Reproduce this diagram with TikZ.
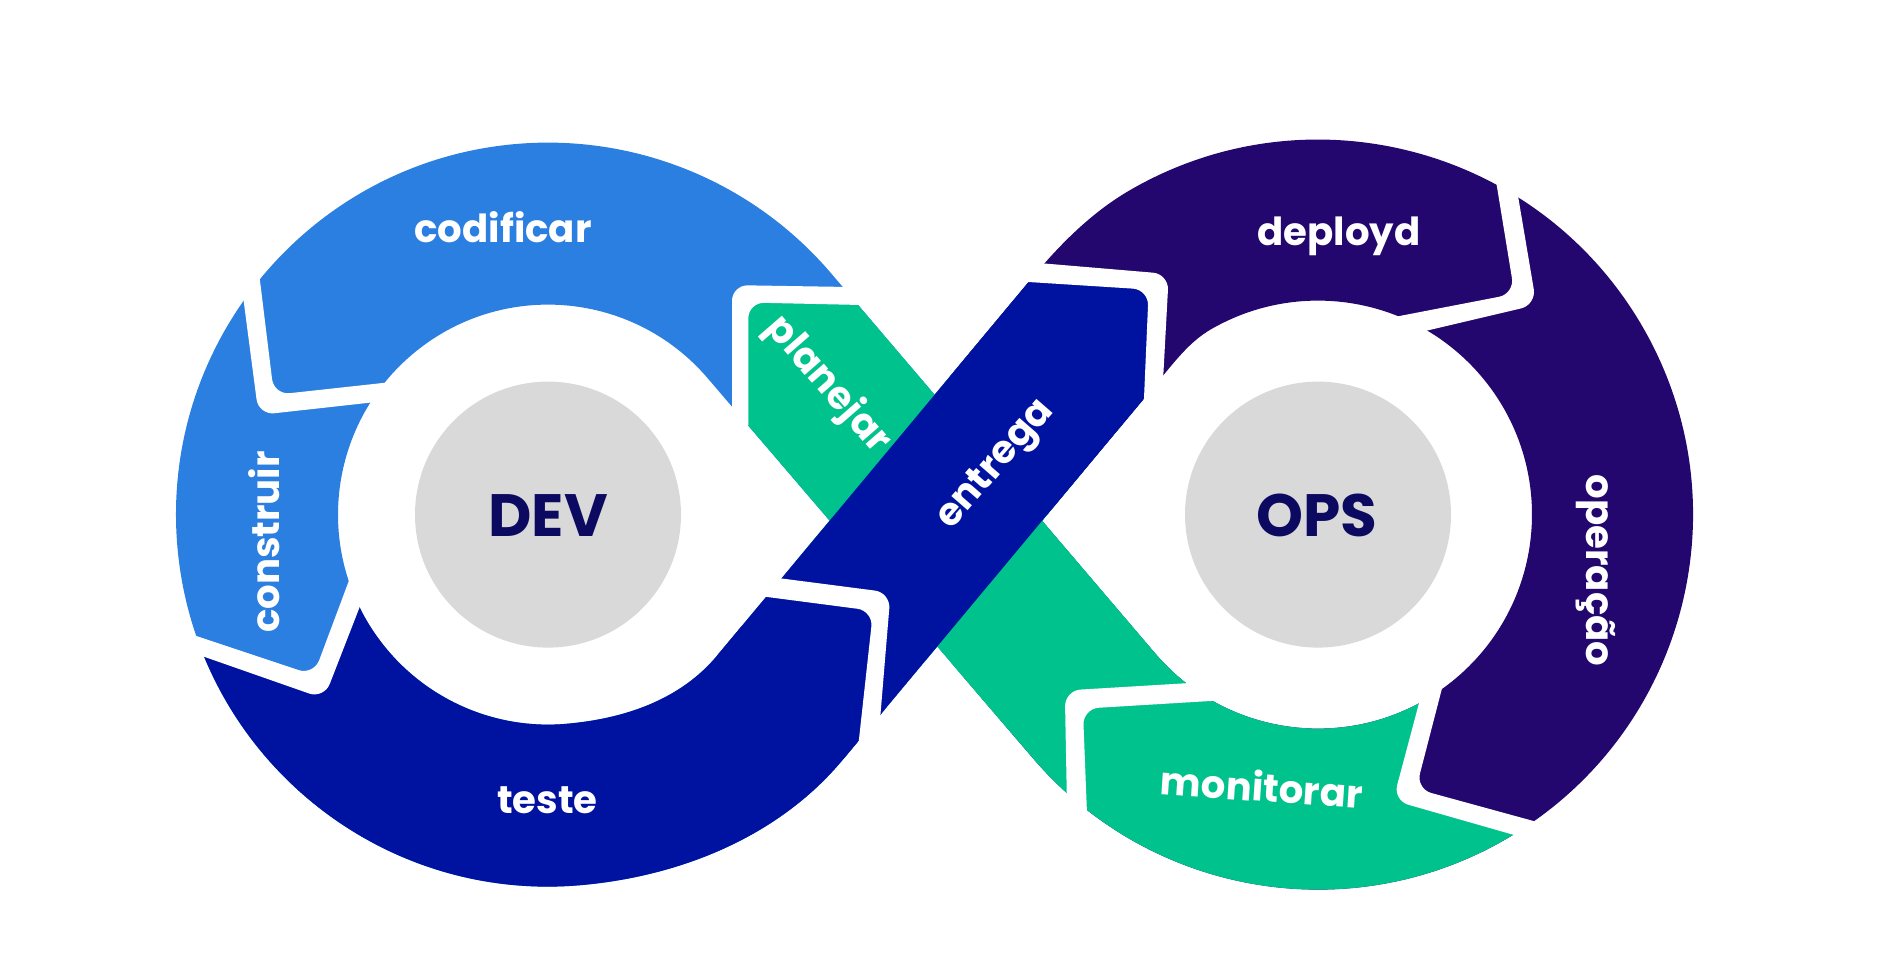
\documentclass[tikz,border=0pt]{standalone}
\usepackage{fontspec}
\setmainfont{Poppins}
\usetikzlibrary{calc}
\definecolor{csky}{HTML}{2B7FE1}
\definecolor{cnavy}{HTML}{0013A0}
\definecolor{cplum}{HTML}{23076E}
\definecolor{cmint}{HTML}{00C28C}
\definecolor{cgrey}{HTML}{D9D9D9}
\definecolor{cink}{HTML}{0B0A60}
\tikzset{
  stage/.style={text=white, font=\bfseries\fontsize{22}{26}\selectfont, anchor=base, inner sep=0pt},
  hub/.style={text=cink, font=\bfseries\fontsize{34}{40}\selectfont, anchor=base, inner sep=0pt},
  gap/.style={fill=white, rounded corners=9},
  core/.style={fill=cgrey},
}

\begin{document}
\begin{tikzpicture}[x=0.02cm, y=-0.02cm]
  \useasboundingbox (0,0) rectangle (1894,961);
  % ring centres and the ends of the two crossing bands
  \coordinate (dev) at (548,514.6);
  \coordinate (ops) at (1318,514.6);
  \coordinate (a1) at ($(dev)+(39.8:220.2)$);
  \coordinate (a2) at ($(dev)+(39.8:383.4)$);
  \coordinate (b1) at ($(ops)+(-140.2:371.2)$);
  \coordinate (b2) at ($(ops)+(-140.2:208)$);
  \coordinate (c1) at ($(dev)+(-40.4:372)$);
  \coordinate (c2) at ($(dev)+(-40.4:210)$);
  \coordinate (d1) at ($(ops)+(139.6:214)$);
  \coordinate (d2) at ($(ops)+(139.6:375)$);

  \begin{scope}
    % the loop: two open rings and the two bands
    \clip (a2) .. controls ($(a2)+(129.8:100)$) and ($(dev)+(85:372)+(-5:100)$) .. ($(dev)+(85:372)$)
            arc[start angle=85, end angle=319.6, radius=372] -- (c2)
            arc[start angle=319.6, end angle=85, radius=210]
            .. controls ($(dev)+(85:210)+(-5:58)$) and ($(a1)+(129.8:58)$) .. (a1) -- cycle
          (a1) -- (b1) -- (b2) -- (a2) -- cycle
          (c1) -- (d1) -- (d2) -- (c2) -- cycle
          (b1) .. controls ($(b1)+(-50.2:44)$) and ($(ops)+(-120:375)+(150:44)$) .. ($(ops)+(-120:375)$)
            arc[start angle=-120, end angle=139.6, radius=375] -- (d1)
            arc[start angle=139.6, end angle=-120, radius=214]
            .. controls ($(ops)+(-120:214)+(150:25)$) and ($(b2)+(-50.2:25)$) .. (b2) -- cycle;
    \fill[csky] (0,0) rectangle (960,961);
    \fill[cplum] (960,0) rectangle (1894,961);
    \fill[cmint] (740.2,293.8) -- (960,298) -- (1220,660) -- (1100,800) -- (740.2,520) -- cycle;
    \fill[cmint] (1445.2,640) -- (1404.6,794.6) -- (1620,855) -- (1620,961) -- (950,961) -- (950,514.6) -- (ops) -- cycle;
    \fill[cnavy] (100,612.1) -- (318.8,686.9) -- (373,545) -- (dev) -- (1067.6,814.6) -- (1067.6,961) -- (100,961) -- cycle;
    \fill[cnavy] (a1) -- (b1) -- (b2) -- (a2) -- cycle;
    \fill[cnavy] (950,266.5) -- (1158.75,281.8) -- (1151,440) -- (1151,514.6) -- (950,514.6) -- cycle;
  \end{scope}

  % white cuts between the stages
  \fill[gap] (255,240) -- (274,394.9) -- (410,380) -- (410,398.2) -- (258.6,415) -- (235.7,240) -- cycle;
  \fill[gap] (150,620.5) -- (313.6,675.1) -- (362.3,545) -- (383.8,545) -- (324,698.7) -- (150,637.8) -- cycle;
  \fill[gap] (930,288.3) -- (732,285.1) -- (732,440) -- (748.3,440) -- (748.3,302.5) -- (930,306.5) -- cycle;
  \fill[gap] (690,586.9) -- (873.1,610.8) -- (851.2,810) -- (872.5,810) -- (890.6,592.6) -- (690,566.6) -- cycle;
  \fill[gap] (970,278.3) -- (1148.7,289.6) -- (1142.2,440) -- (1159.8,440) -- (1168.8,274) -- (970,257.2) -- cycle;
  \fill[gap] (1484.4,110) -- (1514.5,293.8) -- (1370,321.7) -- (1370,344) -- (1536.4,304.8) -- (1503.5,110) -- cycle;
  \fill[gap] (1435.8,640) -- (1393.1,800.4) -- (1620,865.2) -- (1620,844.7) -- (1416,788.8) -- (1454.5,640) -- cycle;
  \fill[gap] (1260,678.8) -- (1064.8,690.5) -- (1068.4,880) -- (1089.6,880) -- (1082.9,708.7) -- (1260,698) -- cycle;

  \fill[core] (dev) circle[radius=133];
  \fill[core] (ops) circle[radius=133];

  \node[hub] (devlbl) at (548.1,536.4) {DEV};
  \node[hub] (opslbl) at (1316.9,536.4) {OPS};
  \node[stage] (codificar) at (503.1,242.8) {codificar};
  \node[stage, rotate=90] (construir) at (279,542) {construir};
  \node[stage] (teste) at (547.5,813) {teste};
  \node[stage, rotate=-49] (planejar) at (820,392) {planejar};
  \node[stage, rotate=49] (entrega) at (1003,471) {entrega};
  \node[stage] (deployd) at (1339,245.4) {deployd};
  \node[stage, rotate=-90] (operacao) at (1586.6,570.6) {operação};
  \node[stage, rotate=-3.8] (monitorar) at (1261,801.5) {monitorar};
\end{tikzpicture}
\end{document}
